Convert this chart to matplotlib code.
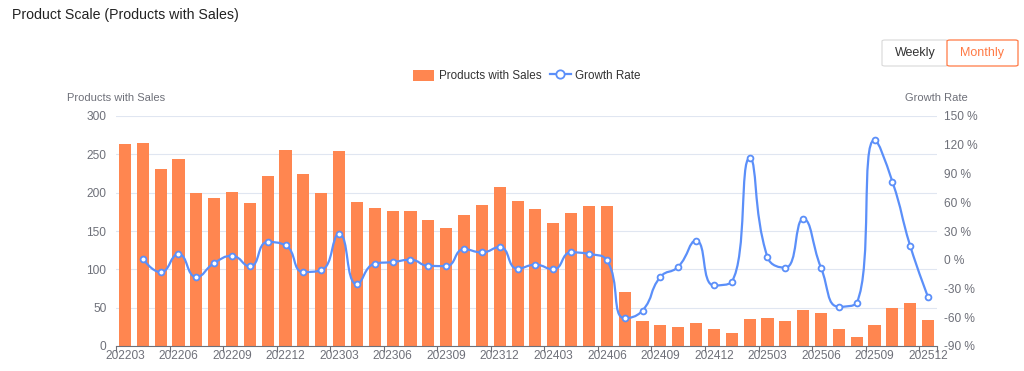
import numpy as np
import matplotlib
matplotlib.use('Agg')
from matplotlib import pyplot as plt
from matplotlib.path import Path
from matplotlib.patches import PathPatch, FancyBboxPatch
from matplotlib.lines import Line2D
from matplotlib.patches import Patch

plt.rcParams['font.family'] = ['Liberation Sans', 'DejaVu Sans']

# months 202203 .. 202512
months = []
for y in range(2022, 2026):
    for m in range(1, 13):
        if y == 2022 and m < 3:
            continue
        months.append(f'{y}{m:02d}')

products = [263, 265, 231, 244, 200, 193, 201, 187, 222, 256,
            224, 200, 254, 188, 180, 176, 176, 165, 154, 171,
            184, 208, 189, 179, 161, 173, 183, 182, 71, 33,
            27, 25, 30, 22, 17, 35, 36, 33, 47, 43,
            22, 12, 27, 49, 56, 34]

growth = [None, 1, -13, 6, -18, -3.5, 4, -7, 18.5, 15,
          -12.8, -11, 27, -25.6, -4, -2.4, 0, -6.3, -6.6, 11,
          7.7, 13.3, -9.3, -5.2, -10, 7.7, 6, -0.6, -61, -53,
          -18, -7.3, 20, -26.8, -23, 106, 2.8, -8.3, 42.5, -8.3,
          -49, -45, 125, 81.5, 14.4, -39]

BAR = '#ff8650'
LINE = '#5b8ff9'
LABEL = '#6e7079'
GRID = '#e0e6f1'


def smooth_path(pts, smooth=0.5):
    # bezier control points the way echarts does it (pixel space, clamped)
    n = len(pts)
    verts = [pts[0]]
    codes = [Path.MOVETO]
    cp0 = pts[0].copy()
    for i in range(n):
        p = pts[i]
        if i > 0:
            prev = pts[i - 1]
        else:
            prev = p
        nxt = pts[i + 1] if i < n - 1 else p
        if i == 0 or i == n - 1:
            cp1 = p.copy()
            next_cp0 = p.copy()
        else:
            vec = nxt - prev
            len_prev = np.hypot(*(p - prev))
            len_next = np.hypot(*(nxt - p))
            ratio = len_next / (len_next + len_prev)
            next_cp0 = p + vec * smooth * ratio
            next_cp0 = np.minimum(next_cp0, np.maximum(nxt, p))
            next_cp0 = np.maximum(next_cp0, np.minimum(nxt, p))
            v = next_cp0 - p
            cp1 = p - v * len_prev / len_next
            cp1 = np.minimum(cp1, np.maximum(prev, p))
            cp1 = np.maximum(cp1, np.minimum(prev, p))
            v = p - cp1
            next_cp0 = p + v * len_next / len_prev
        if i > 0:
            verts += [cp0, cp1, p]
            codes += [Path.CURVE4] * 3
        cp0 = next_cp0
    return np.array(verts), codes


fig = plt.figure(figsize=(10.24, 3.71), dpi=100)
ax = fig.add_axes([116 / 1024, 25 / 371, 821 / 1024, 230 / 371])
ax2 = ax.twinx()

x = np.arange(len(months))
ax.bar(x, products, width=0.68, color=BAR, zorder=2)
ax.set_xlim(-0.5, len(months) - 0.5)
ax.set_ylim(0, 300)
ax.set_yticks(range(0, 301, 50))
ax.grid(axis='y', color=GRID, linewidth=0.8, zorder=0)
ax.set_axisbelow(True)

# x axis: ticks at category boundaries, labels at centres every 3 months
ax.set_xticks(x[::3])
ax.set_xticklabels(months[::3])
ax.set_xticks(list(x[::3] - 0.5) + [len(months) - 0.5], minor=True)
ax.tick_params(axis='x', which='major', length=0, colors=LABEL, labelsize=8.6, pad=3)
ax.tick_params(axis='x', which='minor', length=4, color=LABEL, width=0.8)
ax.tick_params(axis='y', length=0, colors=LABEL, labelsize=8.6, pad=7)

for a in (ax, ax2):
    for s in ('top', 'right', 'left'):
        a.spines[s].set_visible(False)
ax.spines['bottom'].set_color(LABEL)
ax2.spines['bottom'].set_visible(False)

ax2.set_xlim(-0.5, len(months) - 0.5)
ax2.set_ylim(-90, 150)
ax2.set_yticks(range(-90, 151, 30))
ax2.set_yticklabels([f'{v} %' for v in range(-90, 151, 30)])
ax2.tick_params(axis='y', length=0, colors=LABEL, labelsize=8.6, pad=5)

# smooth growth line
gx = [i for i, g in enumerate(growth) if g is not None]
gy = [g for g in growth if g is not None]
pix = ax2.transData.transform(np.column_stack([gx, gy]).astype(float))
verts, codes = smooth_path(pix)
verts = ax2.transData.inverted().transform(verts)
ax2.add_patch(PathPatch(Path(verts, codes), facecolor='none', edgecolor=LINE, lw=1.6, zorder=3))
ax2.plot(gx, gy, linestyle='none', marker='o', markersize=4.2, markerfacecolor='white',
         markeredgecolor=LINE, markeredgewidth=1.3, zorder=4)

# axis names
fig.text(116 / 1024, 1 - 98 / 371, 'Products with Sales', ha='center', va='center',
         fontsize=8, color=LABEL)
fig.text(936 / 1024, 1 - 98 / 371, 'Growth Rate', ha='center', va='center',
         fontsize=8, color=LABEL)

# title
fig.text(12 / 1024, 1 - 15 / 371, 'Product Scale (Products with Sales)', ha='left', va='center',
         fontsize=10.2, color='#222222')

# legend
handles = [Patch(facecolor=BAR, edgecolor='none'),
           Line2D([0], [0], color=LINE, lw=1.6, marker='o', markersize=6,
                  markerfacecolor='white', markeredgecolor=LINE, markeredgewidth=1.3)]
fig.legend(handles, ['Products with Sales', 'Growth Rate'], loc='center',
           bbox_to_anchor=(527 / 1024, 1 - 76 / 371), ncol=2, frameon=False,
           fontsize=8.4, labelcolor='#333333', handlelength=1.8, handleheight=1.1,
           handletextpad=0.4, columnspacing=0.7)

# Weekly / Monthly buttons
fig.patches.append(FancyBboxPatch((882 / 1024, 1 - 66 / 371), 66 / 1024, 26 / 371,
                                  boxstyle='round,pad=0,rounding_size=0.003',
                                  transform=fig.transFigure, facecolor='white',
                                  edgecolor='#d9d9d9', lw=0.8))
fig.patches.append(FancyBboxPatch((947 / 1024, 1 - 66 / 371), 71 / 1024, 26 / 371,
                                  boxstyle='round,pad=0,rounding_size=0.003',
                                  transform=fig.transFigure, facecolor='white',
                                  edgecolor='#ff7a45', lw=0.9))
fig.text(915 / 1024, 1 - 53 / 371, 'Weekly', ha='center', va='center', fontsize=9, color='#333333')
fig.text(982 / 1024, 1 - 53 / 371, 'Monthly', ha='center', va='center', fontsize=9, color='#ff7a45')

fig.savefig('out.png', dpi=100)
